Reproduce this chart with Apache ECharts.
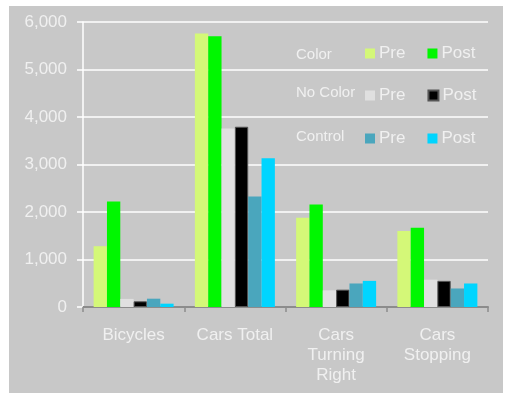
<!DOCTYPE html>
<html>
<head>
<meta charset="utf-8">
<script src="https://cdn.jsdelivr.net/npm/echarts@6/dist/echarts.min.js"></script>
<style>
    html, body { margin: 0; padding: 0; background: #fff; }
    #chart { width: 506px; height: 393px; }
</style>
</head>
<body>
<div id="chart"></div>
<script>
    var categories = ['Bicycles', 'Cars Total', 'Cars\nTurning\nRight', 'Cars\nStopping'];
    var yTicks = [0, 1000, 2000, 3000, 4000, 5000, 6000];

    var colorPre = [1280, 5760, 1880, 1600];
    var colorPost = [2220, 5700, 2160, 1670];
    var noColorPre = [170, 3760, 350, 575];
    var noColorPost = [120, 3795, 365, 550];
    var controlPre = [175, 2325, 495, 390];
    var controlPost = [70, 3130, 550, 495];

    var groups = ['Color', 'No Color', 'Control'];

    var textColor = '#f0f0f0';
    var font = 'Liberation Sans, Arial, sans-serif';

    var chart = echarts.init(document.getElementById('chart'), null, { renderer: 'canvas' });

    function bar(name, data, color, border) {
        var s = {
            name: name,
            type: 'bar',
            data: data,
            barGap: '0%',
            barCategoryGap: '21%',
            itemStyle: { color: color }
        };
        if (border) {
            s.itemStyle.borderColor = border;
            s.itemStyle.borderWidth = 1;
        }
        return s;
    }

    function legendRow(prefix, top) {
        return {
            data: [prefix + ' Pre', prefix + ' Post'],
            left: 365,
            top: top,
            orient: 'horizontal',
            padding: 0,
            icon: 'rect',
            itemWidth: 10,
            itemHeight: 10,
            itemGap: 22,
            selectedMode: false,
            formatter: function (name) {
                return name.split(' ').pop();
            },
            textStyle: { color: textColor, fontSize: 17, fontFamily: font, padding: [0, 0, 0, -1] }
        };
    }

    var groupTops = [56, 94, 138];

    var option = {
        animation: false,
        backgroundColor: '#ffffff',
        graphic: [
            {
                type: 'rect',
                z: -10,
                silent: true,
                shape: { x: 9, y: 6, width: 494, height: 387 },
                style: { fill: '#c8c8c8' }
            }
        ].concat(groups.map(function (g, i) {
            return {
                type: 'text',
                left: 296,
                top: groupTops[i] - 9,
                silent: true,
                style: { text: g, fill: textColor, fontSize: 15, fontFamily: font }
            };
        })),
        legend: [
            legendRow('Color', 45),
            legendRow('No Color', 87),
            legendRow('Control', 130)
        ],
        grid: { left: 83, right: 18, top: 22, bottom: 86 },
        xAxis: {
            type: 'category',
            data: categories,
            axisLine: { lineStyle: { color: '#8c8c8c', width: 2 } },
            axisTick: { show: true, length: 5, lineStyle: { color: '#8c8c8c', width: 1.5 } },
            axisLabel: {
                interval: 0,
                margin: 18,
                color: textColor,
                fontSize: 17,
                lineHeight: 20,
                fontFamily: font
            }
        },
        yAxis: {
            type: 'value',
            min: yTicks[0],
            max: yTicks[yTicks.length - 1],
            interval: 1000,
            axisLine: { show: true, lineStyle: { color: '#ffffff', width: 1.5 } },
            axisTick: { show: true, length: 6, lineStyle: { color: '#ffffff', width: 1.5 } },
            splitLine: { lineStyle: { color: '#ffffff', width: 1.5 } },
            axisLabel: {
                margin: 16,
                color: textColor,
                fontSize: 17,
                fontFamily: font,
                formatter: function (v) {
                    return v.toLocaleString('en-US');
                }
            }
        },
        series: [
            bar('Color Pre', colorPre, '#d4f878'),
            bar('Color Post', colorPost, '#00f700'),
            bar('No Color Pre', noColorPre, '#e0e0e0'),
            bar('No Color Post', noColorPost, '#000000', '#555555'),
            bar('Control Pre', controlPre, '#4aa6bd'),
            bar('Control Post', controlPost, '#00d5ff')
        ]
    };

    chart.setOption(option);
</script>
</body>
</html>
